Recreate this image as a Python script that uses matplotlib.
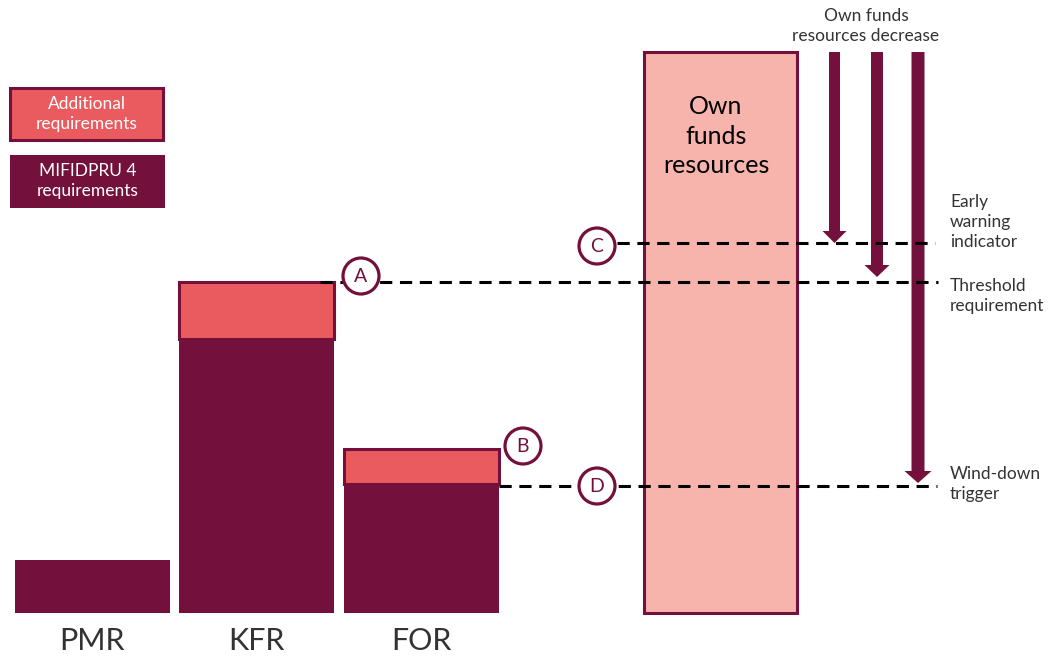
import matplotlib
matplotlib.use('Agg')
import numpy as np
from matplotlib import pyplot as plt
from matplotlib.patches import Circle, Rectangle

plt.rcParams['font.family'] = ['Lato', 'DejaVu Sans']

# requirement bars (heights in arbitrary units, baseline = 0)
categories = ['PMR', 'KFR', 'FOR']
mifidpru = [53, 274, 129]
additional = [0, 57, 35]

own_funds = 561
levels = ['Early\nwarning\nindicator', 'Threshold\nrequirement', 'Wind-down\ntrigger']
level_values = [370, 331, 127]
level_marks = ['C', 'A', 'D']
arrow_ends = [370, 336, 130]

dark = '#74103C'
red = '#EA5B5F'
pink = '#F7B4AD'
grey = '#333333'

fig = plt.figure(figsize=(10.48, 6.57), dpi=100)
ax = fig.add_axes([0, 0, 1, 1])
ax.set_xlim(0, 1048)
ax.set_ylim(-44, 613)
ax.axis('off')

x = np.array([92.5, 256.5, 421.5])
ax.bar(x, mifidpru, width=155, color=dark, zorder=2)
ax.bar(x[1:], additional[1:], bottom=mifidpru[1:], width=155, color=red,
       edgecolor=dark, linewidth=2.2, zorder=2)
for xi, lab in zip(x, categories):
    ax.text(xi, -28, lab, ha='center', va='center', fontsize=22,
            color='#333333', fontweight='normal')

# own funds resources
ax.bar(720.5, own_funds, width=153, color=pink, edgecolor=dark, linewidth=2.2, zorder=2)
ax.text(716, 613 - 136, 'Own\nfunds\nresources', ha='center', va='center',
        fontsize=18, color='black', linespacing=1.35, zorder=5)

# arrows: decrease of own funds resources
arrow_x = [834.5, 877, 918]
arrow_w = [11, 12, 13]
head_w = [24, 25, 27]
top = own_funds
for ax_x, end, w, hw in zip(arrow_x, arrow_ends, arrow_w, head_w):
    ax.arrow(ax_x, top, 0, end - top, width=w, head_width=hw, head_length=12,
             length_includes_head=True, color=dark, linewidth=0, zorder=3)
ax.text(866, 613 - 26, 'Own funds\nresources decrease', ha='center', va='center',
        fontsize=12.5, color=grey, linespacing=1.3)

# dashed level lines
line_start = [617, 320, 499]
line_end = [935, 938, 937]
for s, e, v in zip(line_start, line_end, level_values):
    ax.plot([s, e], [v, v], color='black', linewidth=2.2,
            linestyle=(0, (4, 2.5)), zorder=4)

label_y = [613 - 222, 613 - 296, 613 - 484]
for lab, ly in zip(levels, label_y):
    ax.text(950, ly, lab, ha='left', va='center', fontsize=12.5,
            color=grey, linespacing=1.3)

# circled markers
marks = ['A', 'B', 'C', 'D']
mark_xy = [(361, 613 - 276), (523, 613 - 446), (597, 613 - 246), (597, 613 - 486)]
for m, (cx, cy) in zip(marks, mark_xy):
    ax.add_patch(Circle((cx, cy), 18, facecolor='white', edgecolor=dark,
                        linewidth=2.3, zorder=6))
    ax.text(cx, cy, m, ha='center', va='center', fontsize=14, color=dark, zorder=7)

# legend boxes
ax.add_patch(Rectangle((10, 613 - 140), 153, 52, facecolor=red, edgecolor=dark,
                       linewidth=2.2, zorder=2))
ax.text(87, 613 - 114, 'Additional\nrequirements', ha='center', va='center',
        fontsize=12.5, color='white', linespacing=1.3)
ax.add_patch(Rectangle((10, 613 - 208), 155, 53, facecolor=dark, edgecolor='none', zorder=2))
ax.text(88, 613 - 181, 'MIFIDPRU 4\nrequirements', ha='center', va='center',
        fontsize=12.5, color='white', linespacing=1.3)

plt.savefig('out.png', dpi=100)
